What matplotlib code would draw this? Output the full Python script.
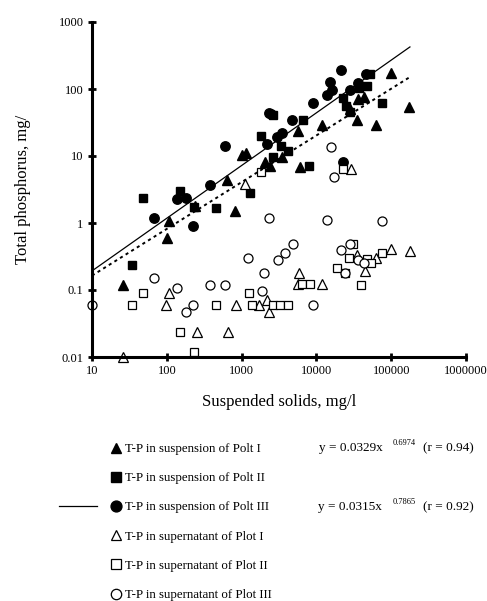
import matplotlib
matplotlib.use("Agg")
import matplotlib.pyplot as plt
import numpy as np

plt.rcParams['font.family'] = ['Liberation Serif', 'DejaVu Serif']

# T-P in suspension (filled symbols), x = suspended solids mg/l, y = T-P mg/l
susp1_x = [26, 100, 106, 240, 640, 810, 1000, 1150, 2050, 2400, 3500, 5700, 6000,
           12000, 28000, 35000, 36000, 43000, 63000, 100000, 174000]
susp1_y = [0.12, 0.6, 1.08, 1.8, 4.4, 1.5, 10.5, 11, 8.1, 7.0, 9.7, 24, 6.9,
           29, 50, 35, 70, 75, 29, 174, 54]

susp2_x = [34, 48, 150, 230, 450, 1300, 1800, 2600, 2600, 3400, 4200, 6600, 8000,
           23000, 25000, 28000, 37000, 47000, 52000, 75000]
susp2_y = [0.24, 2.4, 3.0, 1.75, 1.7, 2.8, 20, 41, 9.6, 14, 12, 35, 7,
           73, 56, 45, 105, 110, 170, 62]

susp3_x = [68, 137, 180, 225, 380, 600, 2200, 2350, 2500, 3000, 3500, 4700, 9000,
           14000, 15000, 16000, 21000, 23000, 28000, 36000, 46000]
susp3_y = [1.2, 2.3, 2.35, 0.9, 3.7, 14, 15, 44, 42, 19, 22, 34, 61,
           80, 127, 95, 195, 8.1, 98, 125, 168]

# T-P in supernatant (open symbols)
sup1_x = [26, 97, 107, 250, 650, 830, 1120, 1700, 2200, 2300, 5600, 5800, 11800,
          29000, 35000, 44000, 63000, 100000, 177000]
sup1_y = [0.01, 0.06, 0.09, 0.024, 0.024, 0.06, 3.8, 0.06, 0.07, 0.047, 0.125, 0.18, 0.125,
          6.4, 0.33, 0.19, 0.3, 0.41, 0.38]

sup2_x = [34, 48, 150, 230, 450, 1270, 1380, 1800, 2600, 3300, 4200, 6400, 8200,
          19000, 23000, 24000, 27000, 31000, 40000, 47000, 53000, 75000]
sup2_y = [0.06, 0.09, 0.024, 0.012, 0.06, 0.09, 0.06, 5.7, 0.06, 0.06, 0.06, 0.125, 0.125,
          0.21, 6.4, 0.18, 0.3, 0.49, 0.12, 0.29, 0.25, 0.36]

sup3_x = [10, 68, 137, 180, 225, 380, 600, 1200, 1900, 2000, 2350, 3100, 3800, 4800,
          9000, 14000, 15800, 17300, 21000, 24000, 28000, 36000, 43000, 75000]
sup3_y = [0.06, 0.15, 0.107, 0.047, 0.06, 0.12, 0.12, 0.3, 0.097, 0.18, 1.2, 0.28, 0.36, 0.48,
          0.06, 1.12, 13.5, 4.9, 0.39, 0.18, 0.49, 0.28, 0.25, 1.07]

# regression fits y = a * x^b
fit1_a, fit1_b = 0.0329, 0.6974
fit2_a, fit2_b = 0.0315, 0.7865
fit_x = [10, 178000]

x_ticks = [10, 100, 1000, 10000, 100000, 1000000]
x_ticklabels = ['10', '100', '1000', '10000', '100000', '1000000']
y_ticks = [0.01, 0.1, 1, 10, 100, 1000]
y_ticklabels = ['0.01', '0.1', '1', '10', '100', '1000']

fig = plt.figure(figsize=(4.87, 6.01), dpi=100)
W, H = 487, 601
ax = fig.add_axes([92 / W, 1 - 357 / H, (466 - 92) / W, (357 - 22) / H])

fx = np.array(fit_x, dtype=float)
ax.plot(fx, fit2_a * fx ** fit2_b, color='black', lw=0.9, zorder=3)
ax.plot(fx, fit1_a * fx ** fit1_b, color='black', lw=1.4, ls=(0, (1.6, 1.8)), zorder=3)

ms = 6.8
h1, = ax.plot(susp1_x, susp1_y, '^', color='black', ms=ms, ls='none', label='T-P in suspension of Polt I')
h2, = ax.plot(susp2_x, susp2_y, 's', color='black', ms=ms - 0.6, ls='none', label='T-P in suspension of Polt II')
h3, = ax.plot(susp3_x, susp3_y, 'o', color='black', ms=ms, ls='none', label='T-P in suspension of Polt III')
h4, = ax.plot(sup1_x, sup1_y, '^', mfc='white', mec='black', mew=0.9, ms=ms, ls='none', label='T-P in supernatant of Plot I')
h5, = ax.plot(sup2_x, sup2_y, 's', mfc='white', mec='black', mew=0.9, ms=ms - 0.6, ls='none', label='T-P in supernatant of Plot II')
h6, = ax.plot(sup3_x, sup3_y, 'o', mfc='white', mec='black', mew=0.9, ms=ms - 0.3, ls='none', label='T-P in supernatant of Plot III')

ax.set_xscale('log')
ax.set_yscale('log')
ax.set_xlim(10, 1000000)
ax.set_ylim(0.01, 1000)
ax.set_xticks(x_ticks)
ax.set_xticklabels(x_ticklabels)
ax.set_yticks(y_ticks)
ax.set_yticklabels(y_ticklabels)
ax.minorticks_off()
ax.tick_params(direction='inout', length=6, width=2, labelsize=9, pad=3)
for s in ['top', 'right']:
    ax.spines[s].set_visible(False)
for s in ['left', 'bottom']:
    ax.spines[s].set_linewidth(2.2)
ax.patch.set_visible(False)
for h in [h1, h2, h3, h4, h5, h6]:
    h.set_clip_on(False)

ax.set_xlabel('Suspended solids, mg/l', fontsize=12, labelpad=12)
ax.set_ylabel('Total phosphorus, mg/', fontsize=12, labelpad=20)

leg = fig.legend(handles=[h1, h2, h3, h4, h5, h6], loc='upper left',
                 bbox_to_anchor=(111 / W, 1 - 443 / H), frameon=False, fontsize=9.3,
                 handlelength=0.8, handletextpad=0.3, labelspacing=1.33,
                 markerscale=1.15, borderaxespad=0, borderpad=0)

line_leg = fig.legend(handles=[ax.lines[0]], labels=[''], loc='center left',
                      bbox_to_anchor=(59 / W, 1 - 507 / H), frameon=False, fontsize=9,
                      handlelength=3.0, borderaxespad=0, borderpad=0, handletextpad=0)

eq_y1 = 1 - 448 / H
eq_y2 = 1 - 507 / H
fig.text(319 / W, eq_y1, 'y = 0.0329x', fontsize=9.5, va='center')
fig.text(393 / W, eq_y1 + 5 / H, '0.6974', fontsize=6, va='center')
fig.text(423 / W, eq_y1, '(r = 0.94)', fontsize=9.5, va='center')
fig.text(318 / W, eq_y2, 'y = 0.0315x', fontsize=9.5, va='center')
fig.text(393 / W, eq_y2 + 5 / H, '0.7865', fontsize=6, va='center')
fig.text(423 / W, eq_y2, '(r = 0.92)', fontsize=9.5, va='center')

fig.savefig('out.png', dpi=100)
